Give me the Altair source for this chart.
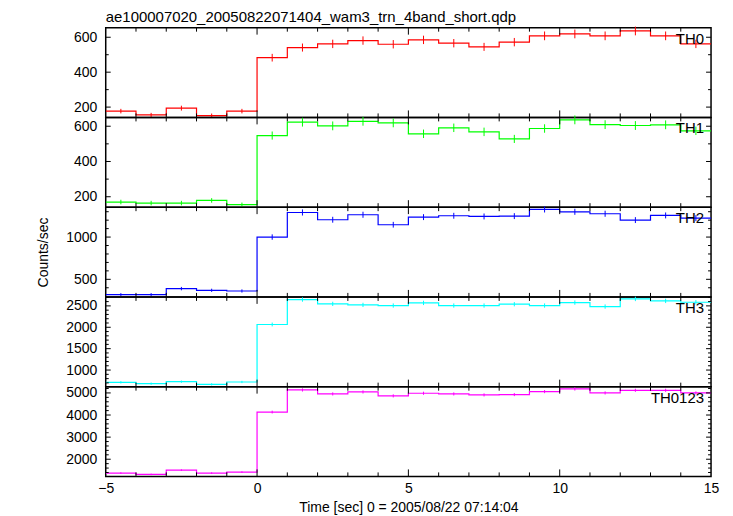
import altair as alt
import pandas as pd

# ---------------- data ----------------
bin_start = list(range(-5, 15))  # 1-s bins from -5 to 15

th0 = [177, 155, 194, 151, 177, 483, 541, 562, 581, 560, 585, 566, 545, 572, 608, 619, 608, 636, 608, 562]
th0_err = [13, 12, 14, 12, 13, 22, 23, 24, 24, 24, 24, 24, 23, 24, 25, 25, 25, 25, 25, 24]

th1 = [170, 164, 164, 179, 155, 547, 623, 602, 628, 619, 557, 591, 568, 528, 587, 636, 609, 604, 608, 574]
th1_err = [13, 13, 13, 13, 12, 23, 25, 25, 25, 25, 24, 24, 24, 23, 24, 25, 25, 25, 25, 24]

th2 = [319, 319, 390, 370, 362, 1000, 1291, 1205, 1264, 1146, 1236, 1252, 1244, 1248, 1327, 1299, 1276, 1201, 1256, 1224]
th2_err = [18, 18, 20, 19, 19, 32, 36, 35, 36, 34, 35, 35, 35, 35, 36, 36, 36, 35, 35, 35]

th3 = [713, 682, 728, 666, 721, 2065, 2648, 2547, 2523, 2508, 2570, 2508, 2508, 2539, 2508, 2578, 2484, 2663, 2617, 2585]
th3_err = [27, 26, 27, 26, 27, 45, 51, 50, 50, 50, 51, 50, 50, 50, 50, 51, 50, 52, 51, 51]

th0123 = [1372, 1312, 1506, 1372, 1417, 4134, 5134, 4955, 5045, 4866, 4985, 4955, 4910, 4925, 5060, 5179, 5000, 5119, 5119, 5000]
th0123_err = [37, 36, 39, 37, 38, 64, 72, 70, 71, 70, 71, 70, 70, 70, 71, 72, 71, 72, 72, 71]

panel_names = ["TH0", "TH1", "TH2", "TH3", "TH0123"]
panel_colors = ["#ff0000", "#00ff00", "#0000ff", "#00ffff", "#ff00ff"]
y_domains = [[141, 655], [141, 650], [292, 1354], [612, 2710], [1223, 5284]]
y_major = [[200, 400, 600], [200, 400, 600], [500, 1000], [1000, 1500, 2000, 2500], [2000, 3000, 4000, 5000]]
y_minor = [
    [300, 500],
    [300, 500],
    [400, 600, 700, 800, 900, 1100, 1200, 1300],
    [700, 800, 900, 1100, 1200, 1300, 1400, 1600, 1700, 1800, 1900, 2100, 2200, 2300, 2400, 2600, 2700],
    [1400, 1600, 1800, 2200, 2400, 2600, 2800, 3200, 3400, 3600, 3800, 4200, 4400, 4600, 4800, 5200],
]
x_major = [0, 5, 10]
x_minor = [-4, -3, -2, -1, 1, 2, 3, 4, 6, 7, 8, 9, 11, 12, 13, 14]
x_labels = [-5, 0, 5, 10, 15]

title_text = "ae100007020_20050822071404_wam3_trn_4band_short.qdp"
x_title = "Time [sec] 0 = 2005/08/22 07:14:04"
y_title = "Counts/sec"

W = 607
H = 90
FONT = "Liberation Sans"


def panel(i, vals, errs):
    color = panel_colors[i]
    bottom = i == 4
    xs = alt.Scale(domain=[-5, 15], nice=False, zero=False)
    ys = alt.Scale(domain=y_domains[i], nice=False, zero=False)
    if bottom:
        xaxis = alt.Axis(values=x_labels, ticks=False, domain=False, grid=False, format="d",
                         labelPadding=5, labelFontSize=14, labelFont=FONT, labelColor="black",
                         title=x_title, titleFont=FONT, titleFontSize=14, titleFontWeight="normal",
                         titleColor="black", titlePadding=5, labelFlush=False)
    else:
        xaxis = None
    yargs = dict(values=y_major[i], ticks=False, domain=False, grid=False, format="d",
                 labelPadding=9, labelFontSize=14, labelFont=FONT, labelColor="black",
                 labelOverlap=False)
    if i == 2:
        yaxis = alt.Axis(title=y_title, titleFont=FONT, titleFontSize=14, titleFontWeight="normal",
                         titleColor="black", titleX=-62, titleY=45, titleAngle=270,
                         titleAlign="center", titleBaseline="middle", **yargs)
    else:
        yaxis = alt.Axis(title=None, **yargs)

    centers = [b + 0.5 for b in bin_start]
    df = pd.DataFrame({"t": centers, "lo": [v - e for v, e in zip(vals, errs)],
                       "hi": [v + e for v, e in zip(vals, errs)]})
    step_df = pd.DataFrame({"t": bin_start + [15], "v": vals + [vals[-1]]})

    X = lambda f: alt.X(f, type="quantitative", scale=xs, axis=xaxis)
    Y = lambda f: alt.Y(f, type="quantitative", scale=ys, axis=yaxis)

    step = alt.Chart(step_df).mark_line(interpolate="step-after", color=color, strokeWidth=1.2,
                                        clip=True).encode(x=X("t"), y=Y("v"))
    err = alt.Chart(df).mark_rule(color=color, strokeWidth=1).encode(x=X("t"), y=Y("lo"), y2="hi")

    layers = [step, err]
    # y ticks (inside, both sides)
    for vals_, ln in [(y_major[i], 5), (y_minor[i], 3)]:
        tdf = pd.DataFrame({"yv": vals_})
        layers.append(alt.Chart(tdf).mark_rule(color="black", strokeWidth=1).encode(
            y=Y("yv"), x=alt.value(0), x2=alt.value(ln)))
        layers.append(alt.Chart(tdf).mark_rule(color="black", strokeWidth=1).encode(
            y=Y("yv"), x=alt.value(W), x2=alt.value(W - ln)))
    # x ticks (inside, top and bottom)
    for vals_, ln in [(x_major, 7), (x_minor, 4)]:
        tdf = pd.DataFrame({"xv": vals_})
        layers.append(alt.Chart(tdf).mark_rule(color="black", strokeWidth=1).encode(
            x=X("xv"), y=alt.value(0), y2=alt.value(ln)))
        layers.append(alt.Chart(tdf).mark_rule(color="black", strokeWidth=1).encode(
            x=X("xv"), y=alt.value(H), y2=alt.value(H - ln)))
    # panel label
    lab = alt.Chart(pd.DataFrame({"name": [panel_names[i]]})).mark_text(
        align="right", baseline="middle", font=FONT, fontSize=15, color="black"
    ).encode(x=alt.value(W - 7), y=alt.value(11), text="name:N")
    layers.append(lab)

    ch = alt.layer(*layers).properties(
        width=W, height=H,
        view=alt.ViewBackground(stroke="black", strokeWidth=1.5, strokeOpacity=1))
    if i == 0:
        ch = ch.properties(title=alt.TitleParams(title_text, anchor="start", frame="group",
                                                 font=FONT, fontSize=15, fontWeight="normal",
                                                 color="black", offset=1))
    return ch


series = [(th0, th0_err), (th1, th1_err), (th2, th2_err), (th3, th3_err), (th0123, th0123_err)]
panels = [panel(i, v, e) for i, (v, e) in enumerate(series)]

chart = alt.vconcat(*panels, spacing=0, bounds="flush").resolve_scale(
    x="independent", y="independent").properties(
    padding={"left": 28, "top": 0, "right": 5, "bottom": 0}
).configure_view(stroke="black", strokeWidth=1.5).configure(background="white")

chart.save("out.html", embed_options={"renderer": "svg", "actions": False})
